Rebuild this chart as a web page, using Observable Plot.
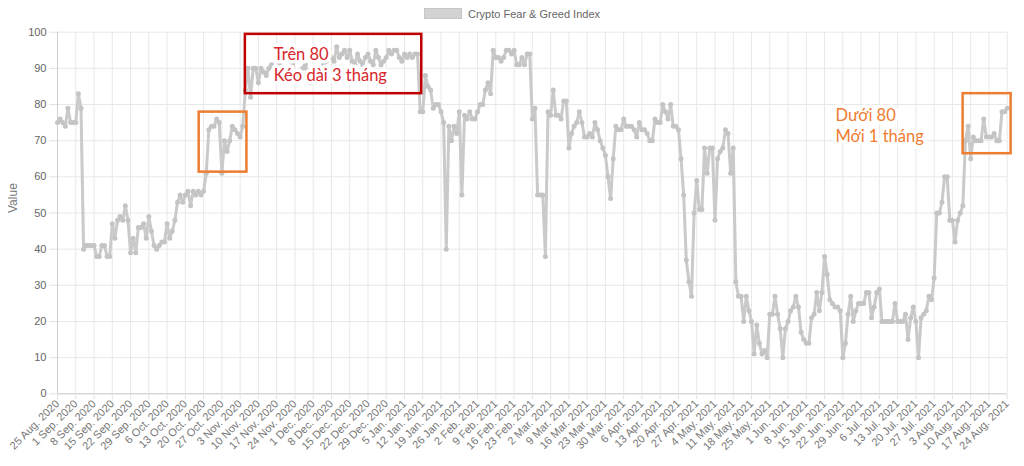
<!DOCTYPE html>
<html><head><meta charset="utf-8">
<script src="https://cdn.jsdelivr.net/npm/d3@7"></script>
<script src="https://cdn.jsdelivr.net/npm/@observablehq/plot@0.6"></script>
<style>
body{margin:0;background:#fff;font-family:"Liberation Sans",Arial,sans-serif;}
#legend{height:24px;padding-top:3px;box-sizing:border-box;display:flex;justify-content:center;align-items:center;font-size:11px;color:#666;}
#legend .sw{width:38px;height:11px;background:#d3d3d3;border:1px solid #c6c6c6;margin-right:6px;box-sizing:border-box}
#chart svg{display:block}
</style></head><body>
<div id="legend"><span class="sw"></span><span>Crypto Fear &amp; Greed Index</span></div>
<div id="chart"></div>
<script>
// Daily Crypto Fear & Greed Index, 25 Aug 2020 .. 24 Aug 2021
const startDay = [2020, 7, 25];
const fgValues = [
 75,76,75,74,79,75,75,75,83,79,
 40,41,41,41,41,38,38,41,41,38,
 38,47,43,48,49,48,52,48,39,43,
 39,46,46,47,43,49,45,41,40,41,
 42,42,47,43,45,48,53,55,53,55,
 56,52,56,55,56,55,56,61,73,74,
 74,76,75,61,70,67,70,74,73,72,
 71,74,84,90,82,90,90,86,90,89,
 88,90,91,90,88,91,90,88,87,90,
 91,88,87,89,90,91,88,86,87,90,
 88,89,91,92,95,93,92,96,93,94,
 95,93,95,92,91,94,92,91,93,94,
 92,91,95,93,91,92,93,95,94,95,
 95,93,92,94,93,94,93,94,94,78,
 78,88,85,84,79,80,80,78,75,40,
 74,70,74,72,78,55,77,76,78,76,
 76,78,80,80,84,86,83,95,93,93,
 92,93,95,95,94,95,91,91,93,91,
 94,94,76,79,55,55,55,38,78,77,
 84,77,77,76,81,81,68,72,74,75,
 78,75,71,71,72,71,75,73,70,68,
 66,60,54,65,74,73,73,76,74,74,
 74,73,71,75,73,73,72,70,70,76,
 75,75,80,78,76,80,74,74,73,65,
 55,37,31,27,50,59,51,51,68,61,
 68,68,48,65,67,68,73,72,61,68,
 31,27,27,20,27,23,20,11,19,14,
 11,12,10,22,22,27,22,18,10,18,
 20,23,24,27,24,17,15,14,14,21,
 22,28,23,28,38,33,26,25,24,24,
 23,10,14,22,27,20,23,25,25,25,
 28,28,21,24,28,29,20,20,20,20,
 20,25,20,20,20,22,15,21,24,20,
 10,21,22,23,27,26,32,50,50,53,
 60,60,48,48,42,48,50,52,70,74,
 65,71,70,70,70,76,71,71,71,72,
 70,70,78,78,79
];
const yTicks = [0,10,20,30,40,50,60,70,80,90,100];
const tickEveryDays = 7;
const seriesName = "Crypto Fear & Greed Index";

// Annotation boxes (day offsets from start, index values)
const boxDayFrom = [72.0, 54.3, 347.1];
const boxDayTo   = [139.6, 72.6, 365.5];
const boxValTop  = [99.4, 77.9, 83.0];
const boxValBot  = [83.0, 61.3, 66.4];
const boxColor   = ["#c00000", "#ed7d31", "#ed7d31"];
// Annotation texts
const noteText  = ["Trên 80", "Kéo dài 3 tháng", "Dưới 80", "Mới 1 tháng"];
const noteDay   = [82.9, 82.9, 298.2, 298.2];
const noteValue = [92.2, 86.4, 75.5, 69.5];
const noteColor = ["#d7262b", "#d7262b", "#ed7d31", "#ed7d31"];

const t0 = Date.UTC(startDay[0], startDay[1], startDay[2]);
const dayToDate = d => new Date(t0 + d * 86400000);
const dates = fgValues.map((_, i) => dayToDate(i));
const data = fgValues.map((v, i) => ({date: dates[i], value: v}));
const tickDates = d3.range(0, fgValues.length, tickEveryDays).map(i => dates[i]);
const fmt = d3.utcFormat("%-d %b. %Y");
const boxes = boxDayFrom.map((d, i) => ({x1: dayToDate(d), x2: dayToDate(boxDayTo[i]), y1: boxValBot[i], y2: boxValTop[i], c: boxColor[i]}));
const notes = noteText.map((t, i) => ({t, x: dayToDate(noteDay[i]), y: noteValue[i], c: noteColor[i]}));

const chart = Plot.plot({
  width: 1024, height: 442,
  marginTop: 7.7, marginBottom: 72.7, marginLeft: 57, marginRight: 17.3,
  style: {fontFamily: '"Liberation Sans", Arial, sans-serif', fontSize: "11px", color: "#666", background: "#fff", overflow: "visible"},
  x: {type: "utc", domain: [dates[0], dates[dates.length - 1]]},
  y: {domain: [0, 100]},
  marks: [
    Plot.ruleY(yTicks, {stroke: "#e8e8e8"}),
    Plot.ruleX(tickDates, {stroke: "#e8e8e8"}),
    Plot.ruleY([0], {stroke: "#cfcfcf"}),
    Plot.ruleX([dates[0]], {stroke: "#cfcfcf"}),
    Plot.axisY({ticks: yTicks, tickSize: 8, tickPadding: 3, stroke: "#e3e3e3", fill: "#666", label: null}),
    Plot.axisX({ticks: tickDates, tickFormat: fmt, tickRotate: -45, tickSize: 6, tickPadding: 2, stroke: "#e3e3e3", fill: "#777", label: null}),
    Plot.text(["Value"], {frameAnchor: "left", dx: -44, rotate: -90, fontSize: 12, fill: "#777"}),
    Plot.lineY(data, {x: "date", y: "value", stroke: "#cacaca", strokeWidth: 3, title: () => seriesName}),
    Plot.dot(data, {x: "date", y: "value", r: 2.5, fill: "#c4c4c4", stroke: "none"}),
    Plot.text(notes, {x: "x", y: "y", text: "t", fill: d => d.c, stroke: "white", strokeWidth: 7, textAnchor: "start", lineAnchor: "bottom", fontSize: 16.5, fontFamily: "Lato, 'Open Sans', sans-serif"}),
    Plot.rect(boxes, {x1: "x1", x2: "x2", y1: "y1", y2: "y2", fill: "none", stroke: d => d.c, strokeWidth: 2.5, clip: false})
  ]
});
document.getElementById("chart").appendChild(chart);
</script></body></html>
